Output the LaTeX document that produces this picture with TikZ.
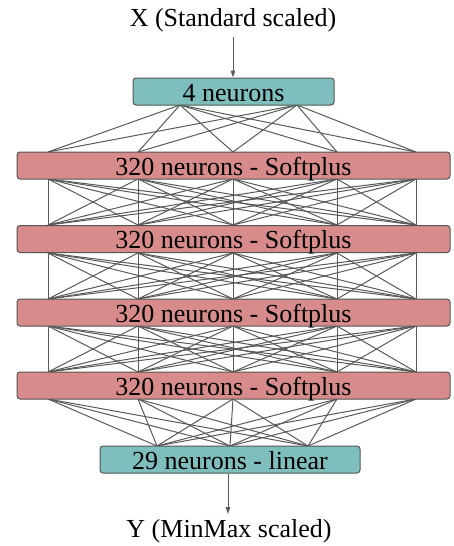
\documentclass[tikz,border=0pt]{standalone}
\usepackage{fontspec}
\setmainfont{Liberation Serif}
\usetikzlibrary{arrows.meta}
\definecolor{tealbox}{HTML}{7EBFBD}
\definecolor{redbox}{HTML}{D78B8A}
\definecolor{boxline}{HTML}{555555}
\definecolor{linkline}{HTML}{595959}
\begin{document}
\begin{tikzpicture}[x=1pt,y=-1pt,
  font=\fontsize{26}{30}\selectfont,
  layerbox/.style={draw=boxline, line width=1pt, rounded corners=3pt,
    inner sep=0pt, minimum height=27pt, text height=21pt, text depth=2pt, align=center},
  hiddenbox/.style={layerbox, fill=redbox, minimum width=433pt},
  iobox/.style={layerbox, fill=tealbox},
  link/.style={draw=linkline, line width=1pt},
  flow/.style={draw=linkline, line width=1pt, -{Triangle[length=7pt,width=4.5pt]}},
  label/.style={inner sep=0pt, anchor=base}]
\useasboundingbox (0,0) rectangle (453,546);

% anchor coordinates for links
\coordinate (inb1) at (180,105);
\coordinate (inb2) at (297,105);
\foreach \k/\t/\b in {1/152/179,2/225/253,3/299/326,4/372/399}{
  \foreach \i/\x in {1/48,2/138,3/233,4/337,5/416}{
    \coordinate (r\k t\i) at (\x,\t);
    \coordinate (r\k b\i) at (\x,\b);
  }
}
\coordinate (outt1) at (157,446);
\coordinate (outt2) at (230,446);
\coordinate (outt3) at (308,446);
\coordinate (xarr) at (233,37);
\coordinate (yarr) at (228,514);

% links
\foreach \i in {1,2}
  \foreach \j in {1,...,5}
    \draw[link] (inb\i) -- (r1t\j);
\foreach \k/\n in {1/2,2/3,3/4}
  \foreach \i in {1,...,5}
    \foreach \j in {1,...,5}
      \draw[link] (r\k b\i) -- (r\n t\j);
\foreach \i in {1,...,5}
  \foreach \j in {1,2,3}
    \draw[link] (r4b\i) -- (outt\j);

% boxes
\node[iobox, minimum width=201pt] (in) at (233.5,91.5) {4 neurons};
\node[hiddenbox] (h1) at (233.5,165.5) {320 neurons - Softplus};
\node[hiddenbox] (h2) at (233.5,239) {320 neurons - Softplus};
\node[hiddenbox] (h3) at (233.5,312.5) {320 neurons - Softplus};
\node[hiddenbox] (h4) at (233.5,385.5) {320 neurons - Softplus};
\node[iobox, minimum width=260pt] (out) at (230,459.5) {29 neurons - linear};

% inputs / outputs
\node[label] (xlab) at (233,27) {X (Standard scaled)};
\node[label] (ylab) at (229,537) {Y (MinMax scaled)};
\draw[flow] (xarr) -- (in.north -| xarr);
\draw[flow] (out.south -| yarr) -- (yarr);
\end{tikzpicture}
\end{document}
